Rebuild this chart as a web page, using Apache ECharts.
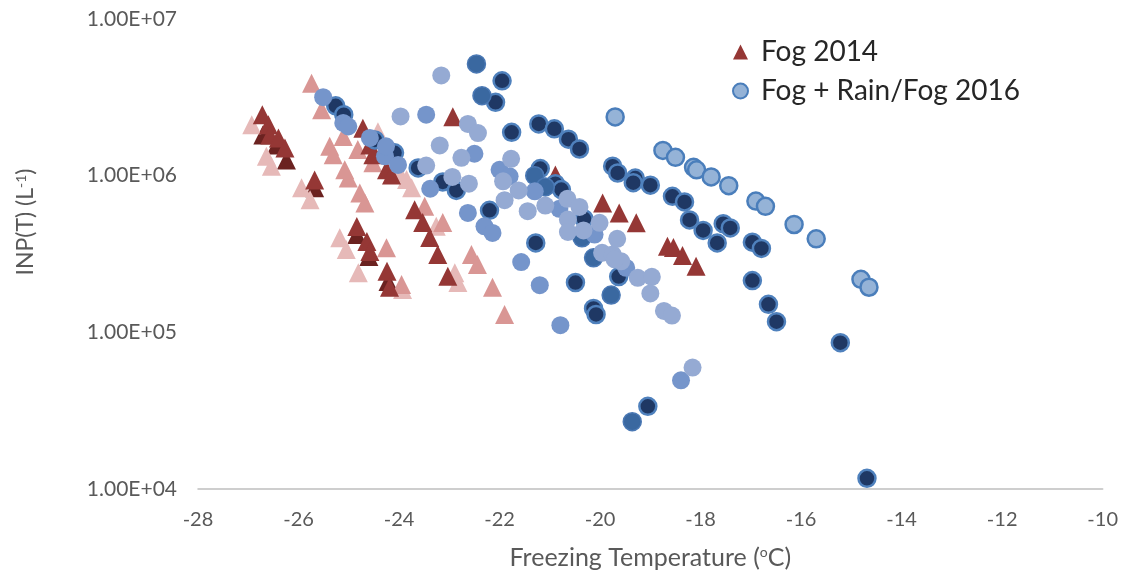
<!DOCTYPE html>
<html>
<head>
<meta charset="utf-8">
<script src="https://cdn.jsdelivr.net/npm/echarts@6/dist/echarts.min.js"></script>
<style>
  html, body { margin: 0; padding: 0; background: #fff; }
  #chart { width: 1121px; height: 575px; }
</style>
</head>
<body>
<div id="chart"></div>
<script>
// Axis ticks
const xTicks = [-28, -26, -24, -22, -20, -18, -16, -14, -12, -10];
const yTicks = [1e4, 1e5, 1e6, 1e7];

// Fog 2014 — [freezing temperature °C, INP per litre]
const fog2014Deep = [
  [-26.71, 1.82e6], [-26.44, 1.57e6], [-26.24, 1.26e6], [-25.68, 8.36e5],
  [-24.84, 4.21e5], [-24.60, 3.05e5], [-24.22, 2.11e5]
];
const fog2014Light = [
  [-26.93, 2.11e6], [-26.64, 1.33e6], [-26.54, 1.15e6], [-25.94, 8.36e5],
  [-25.77, 7.03e5], [-25.18, 4.01e5], [-25.05, 3.38e5], [-24.81, 2.40e5],
  [-24.42, 1.91e6], [-23.99, 1.04e6], [-23.85, 9.44e5], [-23.75, 8.36e5],
  [-23.93, 1.88e5], [-23.26, 4.75e5], [-22.89, 2.40e5], [-22.83, 2.08e5]
];
const fog2014Mid = [
  [-25.74, 3.89e6], [-25.54, 2.63e6], [-25.11, 1.78e6], [-25.38, 1.54e6],
  [-25.31, 1.36e6], [-25.08, 1.09e6], [-25.01, 9.66e5], [-24.82, 1.47e6],
  [-24.78, 7.76e5], [-24.68, 6.70e5], [-24.52, 1.21e6], [-24.25, 3.47e5],
  [-23.95, 2.02e5], [-23.49, 6.37e5], [-23.13, 5.02e5], [-22.56, 3.14e5],
  [-22.44, 2.71e5], [-22.14, 1.94e5], [-21.90, 1.30e5]
];
const fog2014 = [
  [-26.72, 2.45e6], [-26.60, 2.11e6], [-26.57, 1.82e6], [-26.40, 1.74e6],
  [-26.27, 1.50e6], [-24.72, 2.01e6], [-24.58, 1.57e6], [-24.52, 1.36e6],
  [-24.25, 1.09e6], [-24.15, 1.01e6], [-25.68, 9.40e5], [-24.84, 4.73e5],
  [-24.64, 3.80e5], [-24.58, 3.28e5], [-24.24, 2.45e5], [-24.19, 1.94e5],
  [-23.69, 6.07e5], [-23.53, 5.02e5], [-23.39, 4.03e5], [-23.23, 3.14e5],
  [-23.03, 2.28e5], [-22.93, 2.38e6], [-20.89, 1.01e6], [-19.95, 6.70e5],
  [-19.62, 5.78e5], [-19.28, 5.00e5], [-18.66, 3.55e5], [-18.54, 3.48e5],
  [-18.36, 3.09e5], [-18.09, 2.64e5]
];

// Fog + Rain/Fog 2016
const fog2016Navy = [
  [-25.26, 2.79e6], [-25.10, 2.45e6], [-24.48, 1.69e6], [-24.09, 1.40e6],
  [-23.62, 1.12e6], [-23.13, 9.12e5], [-22.86, 8.05e5], [-21.95, 4.03e6],
  [-22.08, 2.94e6], [-21.76, 1.89e6], [-21.22, 2.14e6], [-20.91, 1.99e6],
  [-20.63, 1.71e6], [-20.41, 1.48e6], [-19.75, 1.15e6], [-19.65, 1.04e6],
  [-19.30, 9.66e5], [-19.34, 9.02e5], [-19.00, 8.69e5], [-18.56, 7.38e5],
  [-18.32, 6.80e5], [-18.22, 5.22e5], [-17.95, 4.47e5], [-17.55, 4.94e5],
  [-17.41, 4.64e5], [-17.67, 3.72e5], [-16.97, 3.76e5], [-16.79, 3.43e5],
  [-16.97, 2.14e5], [-16.65, 1.51e5], [-16.49, 1.17e5], [-15.22, 8.59e4],
  [-14.69, 1.17e4], [-19.63, 2.27e5], [-22.20, 6.01e5], [-21.28, 3.72e5],
  [-20.49, 2.08e5], [-20.13, 1.42e5], [-20.08, 1.30e5], [-20.32, 5.30e5],
  [-21.19, 1.11e6], [-20.89, 8.89e5], [-20.77, 8.15e5], [-19.05, 3.37e4]
];
const fog2016Mid = [
  [-22.46, 5.17e6], [-22.35, 3.24e6], [-21.30, 1.00e6], [-21.09, 8.47e5],
  [-20.36, 4.01e5], [-20.13, 2.99e5], [-19.78, 1.73e5], [-19.36, 2.69e4]
];
const fog2016Soft = [
  [-25.51, 3.17e6], [-25.11, 2.17e6], [-25.01, 2.06e6], [-24.58, 1.74e6],
  [-24.28, 1.33e6], [-24.02, 1.17e6], [-23.46, 2.45e6], [-23.38, 8.25e5],
  [-24.26, 1.54e6], [-22.50, 1.38e6], [-22.00, 1.09e6], [-21.30, 7.94e5],
  [-22.30, 4.75e5], [-22.14, 4.31e5], [-21.57, 2.81e5], [-21.20, 2.00e5],
  [-20.79, 1.11e5], [-20.81, 6.14e5], [-20.11, 4.21e5], [-19.48, 2.58e5],
  [-22.63, 5.78e5], [-18.39, 4.94e4], [-21.80, 9.90e5]
];
const fog2016Pale = [
  [-23.16, 4.36e6], [-23.97, 2.39e6], [-22.63, 2.14e6], [-22.43, 1.87e6],
  [-23.19, 1.56e6], [-22.76, 1.30e6], [-23.46, 1.16e6], [-21.77, 1.28e6],
  [-21.93, 9.20e5], [-22.94, 9.82e5], [-22.61, 8.89e5], [-21.62, 8.05e5],
  [-21.90, 6.97e5], [-21.44, 5.93e5], [-21.09, 6.44e5], [-20.65, 7.11e5],
  [-20.41, 6.32e5], [-20.64, 5.25e5], [-20.64, 4.37e5], [-20.33, 4.47e5],
  [-20.01, 5.00e5], [-19.96, 3.22e5], [-19.75, 3.14e5], [-19.58, 2.84e5],
  [-19.66, 3.95e5], [-19.25, 2.23e5], [-18.97, 2.26e5], [-19.00, 1.77e5],
  [-18.73, 1.37e5], [-18.57, 1.28e5], [-18.16, 5.96e4], [-19.71, 2.92e5]
];
const fog2016 = [
  [-19.70, 2.37e6], [-18.75, 1.45e6], [-18.50, 1.31e6], [-18.14, 1.13e6],
  [-18.08, 1.09e6], [-17.79, 9.82e5], [-17.44, 8.63e5], [-16.90, 6.88e5],
  [-16.71, 6.37e5], [-16.14, 4.88e5], [-15.70, 3.95e5], [-14.81, 2.18e5],
  [-14.65, 1.94e5]
];

const FONT = 'Lato, "Open Sans", sans-serif';
const GREY = '#595959';

function sciLabel(v) {
  const e = Math.round(Math.log10(v));
  const m = v / Math.pow(10, e);
  return m.toFixed(2) + 'E+' + String(e).padStart(2, '0');
}

function tri(name, data, color, size) {
  return {
    name, type: 'scatter', data, symbol: 'triangle', symbolSize: size || 19,
    itemStyle: { color, opacity: 1 }, emphasis: { disabled: true }
  };
}
function dot(name, data, color, border, bw, size) {
  return {
    name, type: 'scatter', data, symbol: 'circle', symbolSize: size || 18,
    itemStyle: { color, borderColor: border || color, borderWidth: bw || 0, opacity: 1 },
    emphasis: { disabled: true }
  };
}

const supRich = {
  s: { fontFamily: FONT, fontSize: 14, color: GREY, verticalAlign: 'top', padding: [0, 0, 10, 0] }
};

const chart = echarts.init(document.getElementById('chart'), null, { renderer: 'canvas' });
chart.setOption({
  animation: false,
  backgroundColor: '#ffffff',
  grid: { left: 198, right: 17, top: 19, bottom: 85 },
  legend: {
    data: [
      { name: 'Fog 2014', icon: 'triangle' },
      { name: 'Fog + Rain/Fog 2016', icon: 'circle' }
    ],
    orient: 'vertical',
    left: 727, top: 33,
    itemWidth: 15, itemHeight: 15, itemGap: 11,
    textStyle: { fontFamily: FONT, fontSize: 28, color: '#262626', padding: [0, 0, 0, 8] }
  },
  graphic: [{
    type: 'text',
    x: 26, y: 222,
    rotation: Math.PI / 2,
    style: {
      text: 'INP(T) (L{s|-1})',
      fontFamily: FONT, fontSize: 23, fill: GREY,
      align: 'center', verticalAlign: 'middle',
      rich: { s: { fontFamily: FONT, fontSize: 14, fill: GREY, verticalAlign: 'top', padding: [0, 0, 10, 0] } }
    }
  }],
  xAxis: {
    type: 'value', min: -28, max: -10, interval: 2,
    name: 'Freezing Temperature ({s|o}C)',
    nameLocation: 'middle', nameGap: 56,
    nameTextStyle: { fontFamily: FONT, fontSize: 25, color: GREY, rich: supRich },
    axisLine: { show: true, lineStyle: { color: '#bfbfbf', width: 1.5 } },
    axisTick: { show: false },
    splitLine: { show: false },
    axisLabel: {
      fontFamily: FONT, fontSize: 20, color: GREY, margin: 21,
      formatter: v => xTicks.includes(v) ? String(v) : ''
    }
  },
  yAxis: {
    type: 'log', logBase: 10, min: 1e4, max: 1e7, interval: 1,
    axisLine: { show: false },
    axisTick: { show: false },
    splitLine: { show: false },
    axisLabel: {
      fontFamily: FONT, fontSize: 21, color: GREY, margin: 21,
      formatter: v => yTicks.some(t => Math.abs(t - v) / t < 1e-6) ? sciLabel(v) : ''
    }
  },
  series: [
    tri('Fog 2014 (event C)', fog2014Deep, '#6b2220'),
    tri('Fog 2014 (event B)', fog2014Light, '#e6b9b8'),
    tri('Fog 2014 (event A)', fog2014Mid, '#d99694'),
    tri('Fog 2014', fog2014, '#953735'),
    dot('Fog + Rain/Fog 2016 (navy)', fog2016Navy, '#1f3864', '#4f81bd', 2.5, 17),
    dot('Fog + Rain/Fog 2016 (mid)', fog2016Mid, '#3a68a0', '#4a78b4', 1.5),
    dot('Fog + Rain/Fog 2016 (soft)', fog2016Soft, '#7595cb'),
    dot('Fog + Rain/Fog 2016 (pale)', fog2016Pale, '#95aad3'),
    dot('Fog + Rain/Fog 2016', fog2016, '#95b3d7', '#4a7ebb', 2.5, 17)
  ]
});
</script>
</body>
</html>
